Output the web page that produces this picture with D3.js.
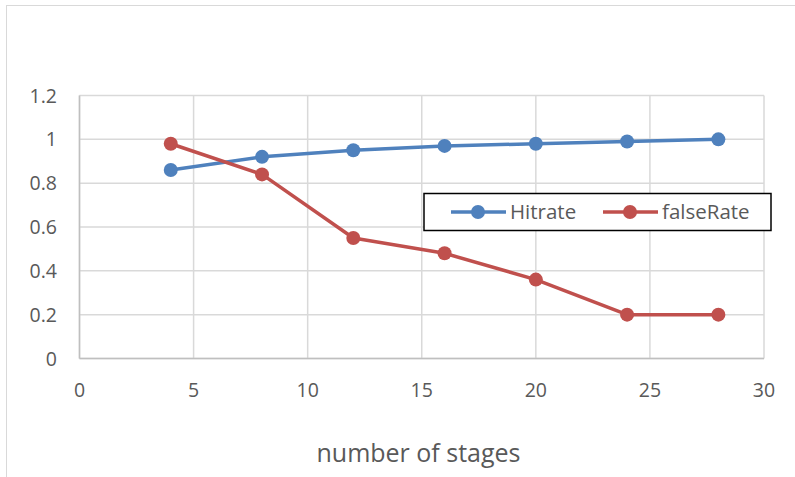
<!DOCTYPE html>
<html><head><meta charset="utf-8">
<script src="https://cdn.jsdelivr.net/npm/d3@7"></script>
<style>body{margin:0;background:#fff;}svg{display:block;}</style>
</head><body>
<svg id="c" width="795" height="477"></svg>
<script>
const stages = [4, 8, 12, 16, 20, 24, 28];
const hitrate = [0.86, 0.92, 0.95, 0.97, 0.98, 0.99, 1.0];
const falseRate = [0.98, 0.84, 0.55, 0.48, 0.36, 0.2, 0.2];
const seriesNames = ["Hitrate", "falseRate"];
const xTicks = [0, 5, 10, 15, 20, 25, 30];
const yTicks = [0, 0.2, 0.4, 0.6, 0.8, 1, 1.2];
const colors = ["#4F81BD", "#C0504D"];

const svg = d3.select("#c");
const font = "'Open Sans', sans-serif";
svg.append("rect").attr("x", 6.5).attr("y", 5.5).attr("width", 900).attr("height", 600)
  .attr("fill", "none").attr("stroke", "#d9d9d9").attr("stroke-width", 1);

const x = d3.scaleLinear().domain([0, 30]).range([79.5, 764]);
const y = d3.scaleLinear().domain([0, 1.2]).range([358.5, 95.5]);

svg.append("g").selectAll("line").data(yTicks).join("line")
  .attr("x1", x(0)).attr("x2", x(30)).attr("y1", d => y(d)).attr("y2", d => y(d))
  .attr("stroke", "#d9d9d9").attr("stroke-width", 1.5);
svg.append("g").selectAll("line").data(xTicks).join("line")
  .attr("y1", y(0)).attr("y2", y(1.2)).attr("x1", d => x(d)).attr("x2", d => x(d))
  .attr("stroke", "#d9d9d9").attr("stroke-width", 1.5);
svg.append("line").attr("x1", x(0)).attr("x2", x(30)).attr("y1", y(0)).attr("y2", y(0))
  .attr("stroke", "#bfbfbf").attr("stroke-width", 1.5);
svg.append("line").attr("x1", x(0)).attr("x2", x(0)).attr("y1", y(0)).attr("y2", y(1.2))
  .attr("stroke", "#bfbfbf").attr("stroke-width", 1.5);

svg.append("g").selectAll("text").data(yTicks).join("text")
  .attr("x", 57).attr("y", d => y(d)).attr("dy", "0.36em").attr("text-anchor", "end")
  .attr("font-family", font).attr("font-size", 19.5).attr("fill", "#595959")
  .text(d => d3.format("")(d));
svg.append("g").selectAll("text").data(xTicks).join("text")
  .attr("x", d => x(d)).attr("y", 390).attr("dy", "0.36em").attr("text-anchor", "middle")
  .attr("font-family", font).attr("font-size", 19.5).attr("fill", "#595959")
  .text(d => d);

svg.append("text").attr("x", 418.5).attr("y", 453).attr("dy", "0.36em").attr("text-anchor", "middle")
  .attr("font-family", font).attr("font-size", 25).attr("fill", "#595959").text("number of stages");

const data = [hitrate, falseRate];
const line = d3.line().x((d, i) => x(stages[i])).y(d => y(d));
data.forEach((vals, k) => {
  svg.append("path").datum(vals).attr("d", line).attr("fill", "none")
    .attr("stroke", colors[k]).attr("stroke-width", 3.5).attr("stroke-linejoin", "round");
  svg.append("g").selectAll("circle").data(vals).join("circle")
    .attr("cx", (d, i) => x(stages[i])).attr("cy", d => y(d)).attr("r", 7)
    .attr("fill", colors[k]);
});

const lg = svg.append("g");
lg.append("rect").attr("x", 424).attr("y", 193.5).attr("width", 347).attr("height", 37)
  .attr("fill", "#fff").attr("stroke", "#000").attr("stroke-width", 1.5);
const legX = [451, 603];
seriesNames.forEach((n, k) => {
  lg.append("line").attr("x1", legX[k]).attr("x2", legX[k] + 55).attr("y1", 212).attr("y2", 212)
    .attr("stroke", colors[k]).attr("stroke-width", 3.5);
  lg.append("circle").attr("cx", legX[k] + 27).attr("cy", 212).attr("r", 7).attr("fill", colors[k]);
  lg.append("text").attr("x", legX[k] + 59).attr("y", 212).attr("dy", "0.36em")
    .attr("font-family", font).attr("font-size", 20.5).attr("fill", "#595959").text(n);
});
</script>
</body></html>
